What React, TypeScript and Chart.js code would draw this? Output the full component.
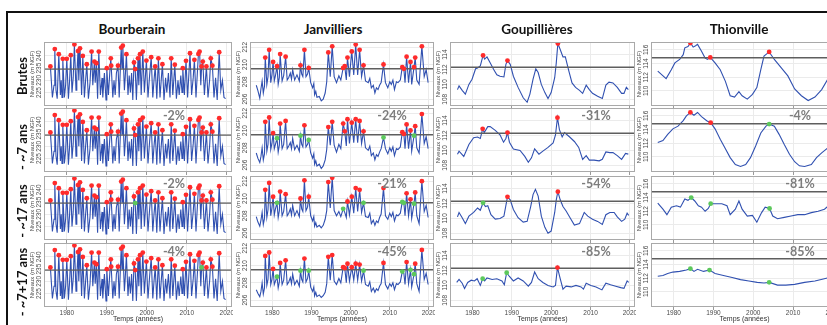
import React, { useEffect, useRef } from 'react';
import { Chart, registerables } from 'chart.js';

Chart.register(...registerables);

// ---------------- DATA ----------------
const sites = ['Bourberain', 'Janvilliers', 'Goupillières', 'Thionville'];
const rowLabels = ['Brutes', '- ~7 ans', '- ~17 ans', '- ~7+17 ans'];
const decadeTicks = [1980, 1990, 2000, 2010, 2020];
const yTickSets = [
  [225, 230, 235, 240],
  [206, 208, 210, 212],
  [108, 110, 112, 114],
  [110, 112, 114, 116],
];
const yMins = [219.5, 205.2, 107.1, 107.8];
const yMaxs = [245.7, 212.6, 115.7, 117.15];
const thresholds = [234.6, 209.5, 112.3, 114.85];
const reductions = [
  ['', '-2%', '-2%', '-4%'],
  ['', '-24%', '-21%', '-45%'],
  ['', '-31%', '-54%', '-85%'],
  ['', '-4%', '-81%', '-85%'],
];
const X_MIN = 1974.3;
const X_MAX = 2021.3;

// Bourberain (same reading for the 4 rows)
const bYears = [
  1975.9, 1976.4, 1976.8, 1977.0, 1977.3, 1977.6, 1978.0, 1978.4, 1978.6, 1978.8,
  1979.0, 1979.4, 1979.7, 1980.0, 1980.4, 1980.7, 1981.0, 1981.3, 1981.6, 1981.9,
  1982.3, 1982.5, 1982.8, 1983.0, 1983.3, 1983.7, 1984.0, 1984.4, 1984.7, 1985.0,
  1985.4, 1985.8, 1986.2, 1986.5, 1986.9, 1987.1, 1987.4, 1987.7, 1988.0, 1988.4,
  1988.8, 1989.0, 1989.4, 1989.8, 1990.0, 1990.4, 1990.7, 1991.0, 1991.1, 1991.5,
  1991.8, 1992.1, 1992.4, 1992.8, 1993.1, 1993.6, 1993.8, 1994.0, 1994.4, 1994.6,
  1994.9, 1995.3, 1995.6, 1995.9, 1996.2, 1996.5, 1996.8, 1997.1, 1997.4, 1997.8,
  1998.0, 1998.3, 1998.6, 1999.0, 1999.4, 1999.9, 2000.3, 2000.7, 2001.1, 2001.5,
  2001.8, 2002.1, 2002.5, 2002.9, 2003.3, 2003.6, 2003.9, 2004.3, 2004.7, 2005.0,
  2005.4, 2005.8, 2006.1, 2006.5, 2007.0, 2007.4, 2007.8, 2008.1, 2008.5, 2008.8,
  2009.0, 2009.4, 2009.8, 2010.2, 2010.8, 2011.2, 2011.6, 2011.9, 2012.3, 2012.9,
  2013.2, 2013.5, 2013.7, 2014.0, 2014.4, 2014.9, 2015.3, 2015.7, 2016.0, 2016.4,
  2016.8, 2017.2, 2017.6, 2018.1, 2018.5, 2018.9, 2019.3, 2019.7,
];
const bValues = [
  235.7, 223, 228, 242.8, 226, 222.5, 240.7, 224, 230, 223,
  238.8, 223, 228, 238.8, 222.5, 230, 240.3, 225, 231, 244.7,
  226, 232, 242, 230, 243.1, 224, 240, 223, 230, 236.6,
  222.5, 229, 241.8, 228, 237.7, 229, 237, 222.5, 241.8, 224,
  231, 223, 233, 222, 235, 224, 232, 239, 236, 223,
  230, 224, 233, 236, 223, 243.4, 235, 244.2, 226, 231,
  240.7, 224, 232, 225, 233, 222, 237.3, 234.6, 222, 239,
  228, 240.7, 224, 241.8, 225, 238.1, 223, 232, 239.5, 223,
  230, 235.7, 222.5, 239, 223, 230, 236.6, 222, 231, 225,
  233, 223, 239, 224, 236.4, 222.5, 230, 224, 232, 225,
  235, 224, 238, 223, 241.1, 224, 231, 238.4, 223, 240.8,
  241.8, 228, 235.7, 237.7, 224, 235.7, 223, 230, 239, 236,
  223, 231, 222, 241.5, 226, 230, 223, 222.5,
];
const bPeaks = [
  1975.9, 1977.0, 1978.0, 1979.0, 1980.0, 1981.0, 1981.9, 1982.8, 1983.3, 1984.0,
  1985.0, 1986.2, 1986.9, 1987.4, 1988.0, 1990.0, 1991.0, 1991.1, 1992.8, 1993.6,
  1994.0, 1994.9, 1996.8, 1997.1, 1997.8, 1998.3, 1999.0, 1999.9, 2001.1, 2002.1,
  2002.9, 2003.9, 2006.1, 2007.0, 2009.0, 2009.8, 2010.8, 2011.9, 2012.9, 2013.2,
  2013.7, 2014.0, 2014.9, 2016.0, 2016.4, 2018.1,
];
const bGreen = [[], [], [1997.1], [2013.7]];

// Janvilliers
const jYears = [
  1975.9, 1976.3, 1976.8, 1977.1, 1977.4, 1977.7, 1978.0, 1978.2, 1978.6, 1978.9,
  1979.2, 1979.6, 1979.9, 1980.2, 1980.5, 1980.8, 1981.2, 1981.5, 1981.8, 1982.0,
  1982.5, 1982.9, 1983.4, 1983.8, 1984.2, 1984.6, 1984.9, 1985.2, 1985.7, 1986.3,
  1986.9, 1987.2, 1987.5, 1987.8, 1988.2, 1988.6, 1989.0, 1989.3, 1989.8, 1990.3,
  1990.6, 1990.8, 1991.1, 1991.4, 1992.0, 1992.5, 1993.0, 1993.5, 1993.9, 1994.3,
  1994.8, 1995.3, 1995.8, 1996.4, 1997.0, 1997.5, 1998.1, 1998.5, 1998.9, 1999.2,
  1999.7, 2000.3, 2000.8, 2001.3, 2001.8, 2002.3, 2002.8, 2003.3, 2003.8, 2004.5,
  2004.9, 2005.3, 2005.8, 2006.2, 2006.6, 2007.0, 2007.4, 2007.8, 2008.4, 2008.9,
  2009.5, 2010.0, 2010.4, 2010.8, 2011.2, 2011.7, 2012.1, 2012.7, 2013.2, 2013.6,
  2013.9, 2014.3, 2014.8, 2015.3, 2015.6, 2016.2, 2016.5, 2016.9, 2017.5, 2018.2,
  2018.8, 2019.3, 2019.8,
];
const jValues1 = [
  207.6, 207.0, 206.1, 207.2, 208.1, 206.7, 207.5, 210.8, 207.7, 208.6,
  211.7, 207.9, 208.8, 210.3, 208.1, 208.7, 209.8, 207.7, 208.5, 211.2,
  208.1, 208.7, 210.9, 208.2, 208.5, 209.0, 208.3, 209.4, 208.2, 208.8,
  208.1, 209.9, 208.9, 208.6, 211.7, 208.6, 208.9, 209.6, 207.9, 207.3,
  207.8, 206.5, 206.9, 206.2, 206.3, 205.8, 206.0, 206.7, 208.0, 211.4,
  208.6, 212.1, 208.6, 207.9, 208.7, 208.2, 209.6, 209.8, 208.2, 210.8,
  208.6, 211.5, 208.8, 212.3, 208.8, 211.7, 208.6, 209.9, 208.1, 207.9,
  208.4, 207.3, 207.6, 206.7, 207.3, 207.1, 207.6, 207.9, 210.0, 207.9,
  207.3, 208.0, 207.7, 208.2, 207.1, 208.0, 207.9, 208.2, 209.7, 209.5,
  207.9, 210.9, 207.9, 210.3, 207.7, 209.7, 210.8, 208.2, 207.7, 212.1,
  208.6, 209.4, 207.9,
];
const jValues2 = [
  207.4, 206.8, 206.3, 207.0, 208.0, 206.6, 207.3, 211.0, 207.6, 208.4,
  211.5, 207.8, 208.5, 209.7, 207.9, 208.4, 209.1, 207.5, 208.3, 210.8,
  207.9, 208.4, 211.1, 207.9, 208.2, 208.6, 207.9, 209.1, 207.8, 208.3,
  207.6, 209.4, 208.4, 208.1, 210.6, 208.1, 208.4, 208.9, 207.4, 206.8,
  207.3, 206.1, 206.5, 205.9, 206.1, 205.6, 205.9, 206.6, 207.8, 210.4,
  208.3, 211.0, 208.3, 207.5, 208.4, 207.9, 210.8, 209.9, 208.2, 211.3,
  208.5, 210.9, 208.6, 211.3, 208.6, 211.1, 208.5, 209.9, 208.0, 207.7,
  208.2, 207.1, 207.4, 206.6, 207.2, 207.0, 207.5, 207.9, 209.2, 207.9,
  207.3, 208.0, 207.6, 208.1, 207.1, 207.9, 207.8, 208.1, 209.8, 209.6,
  207.9, 210.7, 207.9, 210.0, 207.6, 209.4, 210.5, 208.0, 207.4, 211.9,
  208.5, 209.3, 207.9,
];
const jValues3 = [
  207.9, 207.3, 206.8, 207.5, 208.4, 207.0, 207.7, 211.0, 207.8, 208.7,
  211.8, 208.0, 208.9, 210.2, 208.1, 208.8, 209.5, 207.8, 208.6, 210.8,
  208.0, 208.5, 210.5, 208.0, 208.3, 208.8, 208.1, 209.2, 208.0, 208.6,
  207.9, 210.0, 208.8, 208.5, 212.1, 208.6, 209.0, 210.2, 208.0, 207.4,
  207.9, 206.8, 207.2, 206.7, 206.9, 206.6, 206.9, 207.6, 208.6, 211.9,
  208.9, 212.4, 208.6, 208.0, 208.5, 207.9, 208.8, 208.4, 207.8, 209.65,
  208.1, 210.2, 208.3, 211.2, 208.5, 211.0, 208.4, 209.5, 207.9, 207.8,
  208.3, 207.1, 207.5, 206.9, 207.4, 207.2, 207.8, 208.2, 211.2, 208.0,
  207.6, 208.3, 207.9, 208.4, 207.4, 208.1, 208.0, 208.3, 209.6, 209.5,
  208.0, 210.6, 208.0, 209.9, 207.7, 209.4, 210.7, 208.0, 207.1, 212.0,
  208.5, 209.2, 207.8,
];
const jValues4 = [
  207.2, 206.8, 206.4, 207.0, 208.0, 206.7, 207.4, 211.1, 207.7, 208.4,
  211.5, 207.8, 208.4, 209.6, 207.8, 208.2, 208.7, 207.4, 208.1, 210.3,
  207.8, 208.3, 210.6, 207.8, 208.1, 208.6, 207.9, 209.0, 207.8, 208.3,
  207.6, 209.4, 208.4, 208.1, 210.8, 208.1, 208.5, 209.4, 207.5, 207.0,
  207.5, 206.5, 206.9, 206.4, 206.6, 206.3, 206.5, 206.9, 207.9, 211.0,
  208.3, 211.2, 208.2, 207.8, 208.5, 208.0, 209.8, 209.7, 208.0, 210.2,
  208.2, 209.8, 208.3, 210.2, 208.3, 210.1, 208.2, 209.4, 207.8, 207.6,
  208.1, 207.0, 207.4, 206.9, 207.3, 207.1, 207.6, 207.9, 210.3, 207.8,
  207.3, 207.9, 207.6, 208.0, 207.2, 207.9, 207.8, 208.1, 209.3, 209.1,
  207.8, 210.4, 207.9, 209.5, 207.5, 209.0, 210.2, 207.9, 207.0, 211.8,
  208.4, 209.1, 207.8,
];
const jRed = [
  [1978.2, 1979.2, 1980.2, 1981.2, 1982.0, 1983.4, 1987.2, 1988.2, 1989.3, 1994.3, 1995.3, 1998.1, 1998.5,
    1999.2, 2000.3, 2001.3, 2002.3, 2003.3, 2008.4, 2013.2, 2013.6, 2014.3, 2015.3, 2016.2, 2016.5, 2018.2],
  [1978.2, 1979.2, 1980.2, 1982.0, 1983.4, 1988.2, 1994.3, 1995.3, 1998.1, 1998.5, 1999.2, 2000.3, 2001.3,
    2002.3, 2003.3, 2013.2, 2013.6, 2014.3, 2015.3, 2016.5, 2018.2],
  [1978.2, 1979.2, 1980.2, 1982.0, 1983.4, 1987.2, 1988.2, 1989.3, 1994.3, 1995.3, 1999.2, 2000.3, 2001.3,
    2002.3, 2008.4, 2014.3, 2015.3, 2016.5, 2018.2],
  [1978.2, 1979.2, 1980.2, 1982.0, 1983.4, 1988.2, 1994.3, 1995.3, 1998.1, 1998.5, 1999.2, 2000.3, 2001.3,
    2002.3, 2008.4, 2014.3, 2016.5, 2018.2],
];
const jGreen = [
  [],
  [1981.2, 1987.2, 1989.3, 2008.4, 2016.2],
  [1981.2, 1998.1, 2003.3, 2013.2, 2013.6, 2016.2],
  [1981.2, 1987.2, 1989.3, 2003.3, 2013.2, 2015.3, 2016.2],
];

// Goupillières
const gYears1 = [
  1976.2, 1976.6, 1977.4, 1978.2, 1979.1, 1979.9, 1980.8, 1981.3, 1982.0, 1982.7,
  1983.1, 1983.7, 1984.5, 1985.4, 1986.2, 1987.0, 1988.0, 1988.5, 1988.9, 1989.6,
  1990.4, 1991.6, 1992.9, 1993.9, 1994.6, 1995.4, 1996.1, 1996.7, 1997.5, 1998.4,
  1999.2, 2000.0, 2000.9, 2001.3, 2001.7, 2002.3, 2003.0, 2003.6, 2004.5, 2005.3,
  2006.2, 2007.2, 2008.0, 2008.9, 2009.7, 2010.5, 2011.8, 2013.0, 2013.9, 2014.7,
  2015.7, 2016.8, 2017.9, 2018.5, 2019.1, 2019.6,
];
const gValues1 = [
  109.3, 109.8, 109.2, 108.7, 110.0, 110.7, 112.1, 112.2, 112.5, 113.9,
  113.4, 113.7, 112.9, 112.0, 111.3, 111.1, 111.0, 112.7, 113.2, 112.7,
  111.1, 109.6, 108.2, 107.6, 108.7, 110.7, 112.1, 111.6, 110.0, 108.9,
  108.1, 108.9, 110.9, 112.9, 115.5, 114.7, 113.7, 113.7, 111.8, 110.2,
  109.6, 109.2, 108.8, 109.9, 109.3, 108.8, 108.4, 108.1, 109.9, 110.3,
  110.2, 109.6, 108.8, 108.8, 109.6, 109.3,
];
const gYears2 = [
  1976.2, 1976.6, 1977.8, 1979.1, 1980.3, 1981.3, 1982.0, 1982.6, 1983.0, 1983.9,
  1984.5, 1985.8, 1987.0, 1987.9, 1988.5, 1988.9, 1989.4, 1990.4, 1992.1, 1993.3,
  1994.2, 1995.0, 1995.8, 1996.9, 1997.9, 1999.2, 2000.5, 2001.1, 2001.6, 2002.1,
  2002.8, 2003.4, 2004.7, 2005.9, 2007.0, 2008.0, 2008.9, 2009.7, 2010.9, 2012.2,
  2013.0, 2013.9, 2014.9, 2015.7, 2016.8, 2017.9, 2018.9, 2019.6,
];
const gValues2 = [
  109.5, 109.9, 109.2, 110.8, 111.7, 111.8, 111.6, 112.9, 112.4, 113.2,
  113.2, 112.7, 112.1, 111.1, 111.6, 112.4, 111.1, 110.2, 110.0, 109.2,
  108.4, 109.0, 110.2, 109.5, 109.9, 110.4, 111.0, 112.1, 114.4, 112.8,
  111.8, 112.4, 111.8, 111.2, 110.4, 108.8, 109.3, 108.7, 108.7, 108.6,
  108.8, 109.8, 109.7, 109.7, 109.3, 108.8, 109.6, 109.5,
];
const gYears3 = [
  1976.2, 1976.6, 1977.4, 1978.2, 1979.1, 1980.3, 1981.3, 1982.0, 1982.7, 1983.3,
  1983.9, 1984.7, 1985.8, 1987.0, 1988.0, 1988.9, 1989.6, 1990.4, 1991.6, 1992.9,
  1993.9, 1994.8, 1995.4, 1996.0, 1996.7, 1997.5, 1998.4, 1999.2, 2000.0, 2000.9,
  2001.3, 2001.7, 2002.3, 2003.0, 2003.8, 2004.8, 2005.9, 2007.2, 2008.4, 2009.3,
  2010.5, 2011.8, 2013.0, 2013.9, 2014.9, 2016.0, 2016.8, 2017.9, 2018.7, 2019.3,
  2019.7,
];
const gValues3 = [
  110.2, 110.8, 110.1, 109.3, 110.3, 110.8, 111.4, 111.1, 112.1, 111.6,
  111.7, 110.5, 109.9, 110.0, 110.3, 112.9, 112.5, 111.2, 110.1, 109.5,
  109.6, 111.6, 113.2, 113.9, 113.0, 110.3, 108.8, 108.0, 108.3, 110.8,
  112.5, 113.6, 112.5, 111.6, 111.0, 110.1, 109.1, 109.3, 110.8, 110.3,
  109.9, 109.6, 109.2, 110.5, 110.8, 110.8, 110.2, 109.6, 109.9, 110.7,
  110.4,
];
const gYears4 = [
  1976.0, 1976.6, 1977.4, 1978.0, 1978.8, 1979.7, 1980.5, 1981.2, 1982.0, 1982.6,
  1983.1, 1983.7, 1985.0, 1986.2, 1987.5, 1988.1, 1988.7, 1989.4, 1990.4, 1991.6,
  1992.9, 1994.2, 1995.0, 1995.8, 1996.7, 1997.9, 1999.2, 2000.5, 2001.1, 2001.6,
  2002.3, 2003.0, 2003.8, 2005.1, 2006.3, 2007.6, 2008.2, 2008.9, 2010.1, 2011.4,
  2012.9, 2013.9, 2015.1, 2016.4, 2017.7, 2018.5, 2019.3, 2019.7,
];
const gValues4 = [
  110.4, 110.8, 110.3, 109.6, 110.4, 110.7, 110.6, 110.9, 110.0, 110.9,
  110.6, 111.0, 110.8, 110.9, 110.6, 110.1, 111.7, 111.2, 110.6, 111.0,
  110.6, 109.9, 110.4, 111.8, 110.9, 110.4, 110.0, 109.8, 110.0, 112.4,
  110.9, 109.5, 109.9, 109.8, 110.0, 109.8, 109.5, 110.3, 110.0, 109.8,
  109.4, 110.3, 110.1, 109.9, 109.7, 109.6, 110.6, 110.4,
];
const gRed = [[1982.7, 1988.9, 2001.7], [1982.6, 1988.9, 2001.6], [1988.9, 2001.7], [2001.6]];
const gGreen = [[], [], [1982.7], [1982.6, 1988.7]];

// Thionville
const tYears1 = [
  1976.0, 1978.1, 1979.4, 1980.3, 1981.5, 1982.4, 1982.8, 1983.6, 1984.2, 1984.9,
  1985.5, 1986.0, 1987.0, 1987.9, 1988.5, 1989.2, 1990.4, 1991.7, 1993.0, 1994.2,
  1995.3, 1996.4, 1997.2, 1998.5, 1999.8, 2000.9, 2001.9, 2002.7, 2004.0, 2005.3,
  2007.0, 2008.7, 2010.4, 2012.1, 2013.8, 2015.5, 2017.2, 2018.9, 2020.0,
];
const tValues1 = [
  112.9, 111.8, 113.1, 114.1, 114.6, 115.3, 116.3, 116.5, 117.0, 116.4,
  116.6, 116.8, 115.8, 114.8, 114.6, 114.9, 114.1, 113.1, 111.4, 109.3,
  109.1, 109.9, 109.3, 108.8, 109.5, 110.5, 113.1, 115.1, 115.7, 114.6,
  113.4, 112.2, 110.3, 109.3, 108.6, 109.1, 110.2, 111.9, 113.2,
];
const tYears2 = [
  1976.0, 1977.3, 1978.5, 1979.8, 1981.1, 1982.4, 1983.2, 1984.2, 1985.1, 1986.0,
  1987.0, 1988.3, 1989.3, 1990.4, 1991.7, 1993.0, 1994.2, 1995.5, 1996.8, 1998.1,
  1999.3, 2000.6, 2001.9, 2003.2, 2004.0, 2005.3, 2006.5, 2007.8, 2009.1, 2010.4,
  2011.6, 2012.9, 2014.6, 2015.9, 2017.2, 2018.9, 2020.0,
];
const tValues2 = [
  112.1, 112.4, 113.3, 114.1, 114.5, 115.3, 116.0, 116.5, 116.1, 116.5,
  115.9, 115.3, 115.0, 114.1, 112.6, 111.2, 109.9, 108.9, 108.6, 108.9,
  109.9, 111.6, 113.5, 114.5, 114.8, 114.5, 113.3, 111.8, 110.4, 109.3,
  108.7, 108.6, 108.9, 109.9, 110.6, 111.4, 112.0,
];
const tYears3 = [
  1976.0, 1977.3, 1978.3, 1979.4, 1980.7, 1981.7, 1982.8, 1983.6, 1984.4, 1985.3,
  1986.2, 1987.0, 1987.9, 1988.7, 1989.3, 1990.4, 1992.1, 1993.4, 1994.2, 1995.5,
  1996.4, 1997.2, 1998.5, 1999.8, 2000.9, 2002.1, 2003.0, 2004.1, 2004.9, 2006.1,
  2007.8, 2009.5, 2011.2, 2012.9, 2014.6, 2016.3, 2017.9, 2018.9, 2020.0,
];
const tValues3 = [
  113.2, 112.3, 111.5, 112.6, 112.8, 112.6, 113.8, 113.6, 114.0, 113.5,
  112.8, 112.6, 112.0, 112.4, 113.1, 113.1, 113.1, 112.8, 111.5, 112.3,
  113.5, 112.3, 111.3, 111.4, 110.4, 111.8, 112.6, 112.4, 111.3, 110.9,
  111.1, 111.3, 111.5, 111.5, 111.8, 112.0, 112.3, 112.8, 113.0,
];
const tYears4 = [
  1976.0, 1977.3, 1978.5, 1979.8, 1981.5, 1983.2, 1984.2, 1985.1, 1986.0, 1987.5,
  1989.0, 1990.4, 1992.5, 1994.7, 1996.8, 1998.9, 2001.0, 2002.7, 2004.0, 2006.1,
  2008.2, 2010.4, 2012.9, 2015.5, 2017.6, 2019.1, 2020.0,
];
const tValues4 = [
  112.3, 112.4, 112.7, 112.9, 113.0, 113.2, 113.4, 113.0, 113.3, 113.0,
  113.2, 112.7, 112.4, 112.1, 111.8, 111.6, 111.4, 111.3, 111.4, 111.0,
  111.0, 111.1, 111.4, 111.6, 111.9, 112.1, 112.2,
];
const tRed = [[1984.2, 1989.2, 2004.0], [1984.2, 1989.3], [], []];
const tGreen = [[], [2004.0], [1984.4, 1989.3, 2004.1], [1984.2, 1989.0, 2004.0]];

// ---------------- LAYOUT / STYLE ----------------
const colLeft = [44, 250, 450, 651];
const colRight = [232, 434, 635, 838];
const rowTop = [42, 108, 176, 243];
const rowBottom = [106, 172, 240, 307];
const titleX = [132, 333, 537, 739];
const rowLabelY = [76, 147, 211, 282];
const pctX = [174, 392, 596, 800];
const pctY = [0, 115, 183, 251];
const PADL = 16;
const PADR = 1;
const PADT = 1;
const TICKLEN = 3;

const BLUE = '#3050b0';
const RED = '#ff2b2b';
const GREEN = '#5cc85c';

type Pt = { x: number; y: number };

function toPts(xs: number[], ys: number[]): Pt[] {
  return xs.map((x, i) => ({ x, y: ys[i] }));
}
function pick(xs: number[], ys: number[], sel: number[]): Pt[] {
  const out: Pt[] = [];
  sel.forEach((s) => {
    const i = xs.findIndex((v) => Math.abs(v - s) < 1e-6);
    if (i >= 0) out.push({ x: xs[i], y: ys[i] });
  });
  return out;
}

function seriesFor(site: number, row: number): { xs: number[]; ys: number[]; red: number[]; green: number[] } {
  if (site === 0) {
    const green = bGreen[row];
    return { xs: bYears, ys: bValues, red: bPeaks.filter((p) => !green.includes(p)), green };
  }
  if (site === 1) {
    const vals = [jValues1, jValues2, jValues3, jValues4][row];
    return { xs: jYears, ys: vals, red: jRed[row], green: jGreen[row] };
  }
  if (site === 2) {
    const xs = [gYears1, gYears2, gYears3, gYears4][row];
    const ys = [gValues1, gValues2, gValues3, gValues4][row];
    return { xs, ys, red: gRed[row], green: gGreen[row] };
  }
  const xs = [tYears1, tYears2, tYears3, tYears4][row];
  const ys = [tValues1, tValues2, tValues3, tValues4][row];
  return { xs, ys, red: tRed[row], green: tGreen[row] };
}

const decoPlugin = {
  id: 'deco',
  afterDraw(chart: any, _args: any, opts: any) {
    const { ctx, chartArea: a } = chart;
    const ys = chart.scales.y;
    const xs = chart.scales.x;
    ctx.save();
    ctx.strokeStyle = '#a9a9a9';
    ctx.lineWidth = 1;
    ctx.strokeRect(a.left + 0.5, a.top + 0.5, a.right - a.left - 1, a.bottom - a.top - 1);
    ctx.fillStyle = '#4a4a4a';
    ctx.font = '6.5px "Liberation Sans", Arial, sans-serif';
    ctx.textAlign = 'center';
    ctx.textBaseline = 'bottom';
    ys.ticks.forEach((t: any) => {
      const py = ys.getPixelForValue(t.value);
      ctx.save();
      ctx.translate(a.left - 2, py);
      ctx.rotate(-Math.PI / 2);
      ctx.fillText(String(t.value), 0, 0);
      ctx.restore();
    });
    ctx.font = '6px "Liberation Sans", Arial, sans-serif';
    ctx.save();
    ctx.translate(a.left - 8.5, (a.top + a.bottom) / 2);
    ctx.rotate(-Math.PI / 2);
    ctx.fillText('Niveaux (m NGF)', 0, 0);
    ctx.restore();
    if (opts.showX) {
      ctx.textBaseline = 'middle';
      ctx.font = '6.5px "Liberation Sans", Arial, sans-serif';
      xs.ticks.forEach((t: any) => {
        ctx.fillText(String(t.value), xs.getPixelForValue(t.value), a.bottom + 6.5);
      });
      ctx.fillStyle = '#333';
      ctx.font = '7px "Liberation Sans", Arial, sans-serif';
      ctx.fillText('Temps (années)', (a.left + a.right) / 2, a.bottom + 12.5);
    }
    ctx.restore();
  },
};

function Panel({ site, row }: { site: number; row: number }) {
  const ref = useRef<HTMLCanvasElement | null>(null);
  const showX = row === 3;
  const padB = showX ? 16 : 1;
  const w = colRight[site] - colLeft[site] + PADL + PADR;
  const h = rowBottom[row] - rowTop[row] + PADT + padB + TICKLEN;
  useEffect(() => {
    if (!ref.current) return;
    const s = seriesFor(site, row);
    const thr = thresholds[site];
    const chart = new Chart(ref.current, {
      type: 'line',
      data: {
        datasets: [
          {
            data: pick(s.xs, s.ys, s.red),
            showLine: false,
            pointRadius: 2.4,
            pointBackgroundColor: RED,
            pointBorderWidth: 0,
            borderColor: RED,
          },
          {
            data: pick(s.xs, s.ys, s.green),
            showLine: false,
            pointRadius: 2.4,
            pointBackgroundColor: GREEN,
            pointBorderWidth: 0,
            borderColor: GREEN,
          },
          {
            data: [
              { x: X_MIN, y: thr },
              { x: X_MAX, y: thr },
            ],
            borderColor: '#5e5e5e',
            borderWidth: 1.4,
            pointRadius: 0,
          },
          {
            data: toPts(s.xs, s.ys),
            borderColor: BLUE,
            borderWidth: 1.1,
            pointRadius: 0,
            tension: 0,
          },
        ],
      },
      options: {
        animation: false,
        responsive: false,
        maintainAspectRatio: false,
        events: [],
        layout: { autoPadding: false, padding: { left: PADL, right: PADR, top: PADT, bottom: padB } },
        plugins: {
          legend: { display: false },
          tooltip: { enabled: false },
          deco: { showX },
        } as any,
        scales: {
          x: {
            type: 'linear',
            min: X_MIN,
            max: X_MAX,
            afterBuildTicks: (sc: any) => {
              sc.ticks = decadeTicks.map((v) => ({ value: v }));
            },
            ticks: { display: false },
            grid: { color: '#ebebeb', tickColor: '#9a9a9a', tickLength: TICKLEN, drawTicks: true },
            border: { display: false },
          },
          y: {
            type: 'linear',
            min: yMins[site],
            max: yMaxs[site],
            afterBuildTicks: (sc: any) => {
              sc.ticks = yTickSets[site].map((v) => ({ value: v }));
            },
            ticks: { display: false },
            grid: { color: '#ebebeb', drawTicks: false },
            border: { display: false },
          },
        },
      },
      plugins: [decoPlugin as any],
    });
    return () => chart.destroy();
  }, [site, row]);
  return (
    <canvas
      ref={ref}
      width={w}
      height={h}
      style={{
        position: 'absolute',
        left: colLeft[site] - PADL,
        top: rowTop[row] - PADT,
        width: w,
        height: h,
      }}
    />
  );
}

export default function App() {
  const cells: React.ReactNode[] = [];
  for (let r = 0; r < 4; r++) {
    for (let c = 0; c < 4; c++) {
      cells.push(<Panel key={`${r}-${c}`} site={c} row={r} />);
    }
  }
  return (
    <div
      style={{
        position: 'fixed',
        left: 0,
        top: 0,
        width: 827,
        height: 325,
        overflow: 'hidden',
        background: '#fff',
      }}
    >
      <div style={{ position: 'absolute', left: 6, top: 11, width: 830, height: 2, background: '#111' }} />
      <div style={{ position: 'absolute', left: 6, top: 11, width: 2, height: 320, background: '#111' }} />
      {cells}
      {sites.map((s, i) => (
        <div
          key={s}
          style={{
            position: 'absolute',
            left: titleX[i],
            top: 29,
            transform: 'translate(-50%, -50%)',
            font: 'bold 13.5px Lato, "Open Sans", sans-serif',
            color: '#111',
            whiteSpace: 'nowrap',
          }}
        >
          {s}
        </div>
      ))}
      {rowLabels.map((l, i) => (
        <div
          key={l}
          style={{
            position: 'absolute',
            left: 22,
            top: rowLabelY[i],
            transform: 'translate(-50%, -50%) rotate(-90deg)',
            font: 'bold 13px Lato, "Open Sans", sans-serif',
            color: '#111',
            whiteSpace: 'nowrap',
          }}
        >
          {l}
        </div>
      ))}
      {reductions.map((arr, c) =>
        arr.map((t, r) =>
          t ? (
            <div
              key={`p${c}-${r}`}
              style={{
                position: 'absolute',
                left: pctX[c],
                top: pctY[r],
                transform: 'translate(-50%, -50%)',
                font: 'bold 12.5px Lato, "Open Sans", sans-serif',
                color: '#7d7d7d',
                whiteSpace: 'nowrap',
              }}
            >
              {t}
            </div>
          ) : null
        )
      )}
    </div>
  );
}
